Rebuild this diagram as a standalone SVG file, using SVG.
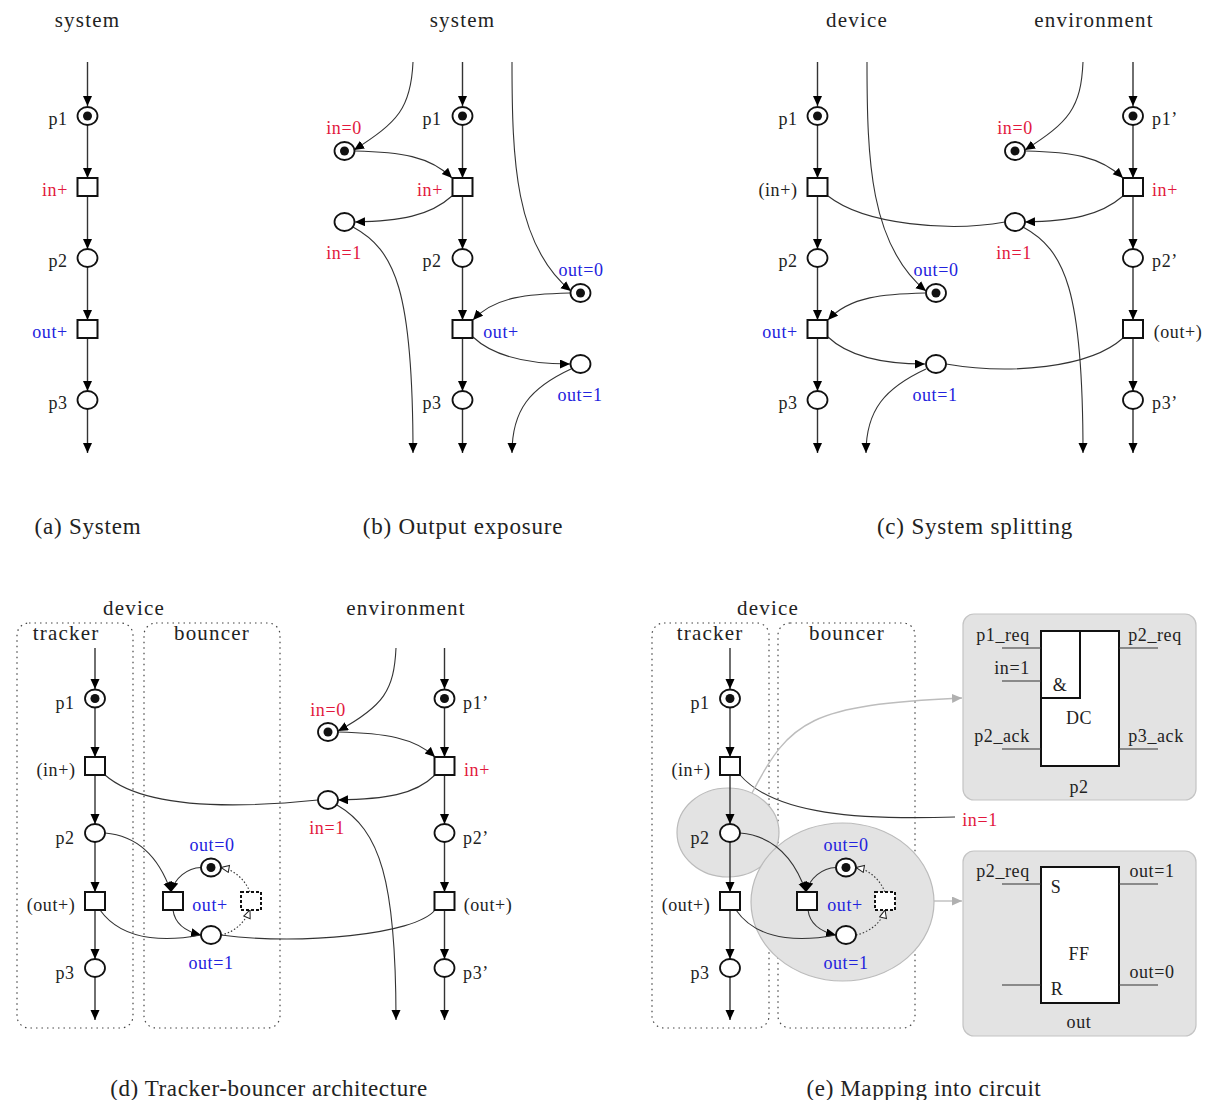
<svg xmlns="http://www.w3.org/2000/svg" width="1209" height="1100" viewBox="0 0 1209 1100">
<defs>
<marker id="ah" markerUnits="userSpaceOnUse" markerWidth="11" markerHeight="10" refX="10" refY="4.5" orient="auto"><path d="M0 0L10 4.5L0 9Z" fill="#000"/></marker>
<marker id="ho" markerUnits="userSpaceOnUse" markerWidth="11" markerHeight="10" refX="9" refY="4" orient="auto"><path d="M1 .5L9 4L1 7.5Z" fill="#fff" stroke="#222" stroke-width="1"/></marker>
<marker id="gr" markerUnits="userSpaceOnUse" markerWidth="11" markerHeight="10" refX="10" refY="4.5" orient="auto"><path d="M0 0L10 4.5L0 9Z" fill="#b0b0b0"/></marker>
</defs>
<style>
text{font-family:"Liberation Serif","Times New Roman",serif;font-size:18px;letter-spacing:.6px;fill:#222;text-anchor:middle;transform:translateY(1px)}
.h{font-size:21px;letter-spacing:1.2px}.cap{font-size:23px;letter-spacing:.8px}.cap2{letter-spacing:.6px}
.r{fill:#e2183c}.b{fill:#2222dd}
.pl{fill:#fff;stroke:#111;stroke-width:1.8}
.tr{fill:#fff;stroke:#111;stroke-width:2}
.dt{fill:#fff;stroke:#111;stroke-width:2;stroke-dasharray:3 2}
.tk{fill:#111;stroke:none}
.c path{fill:none;stroke:#333;stroke-width:1.1;marker-end:url(#ah)}
.c path.n{marker-end:none}
.c path.d{stroke-dasharray:1.5 2;marker-end:url(#ho)}
.c path.v{stroke-width:1.4}
.g path{fill:none;stroke:#bdbdbd;stroke-width:1.4;marker-end:url(#gr)}
.box{fill:none;stroke:#444;stroke-width:1.2;stroke-dasharray:1.5 4}
.blob{fill:#e3e3e3;stroke:#bbb;stroke-width:1.2}
.panel{fill:#e3e3e3;stroke:#c4c4c4;stroke-width:1.2}
.chip{fill:#fff;stroke:#111;stroke-width:2}
.w{stroke:#333;stroke-width:1.2;fill:none}
</style>

<g id="regions">
<rect class="box" x="17" y="623" width="116" height="405" rx="12"/>
<rect class="box" x="144" y="623" width="136" height="405" rx="12"/>
<rect class="box" x="652" y="623" width="117" height="405" rx="12"/>
<rect class="box" x="778" y="623" width="137" height="405" rx="12"/>
<ellipse class="blob" cx="728" cy="832.500" rx="51" ry="44.500"/>
<ellipse class="blob" cx="842.500" cy="902" rx="91.500" ry="79"/>
<rect class="panel" x="963" y="614" width="233" height="186" rx="11"/>
<rect class="panel" x="963" y="851" width="233" height="185" rx="11"/>
</g>

<g id="connectors" class="c">
<!-- a -->
<path class="v" d="M87.500 62V106"/><path class="v" d="M87.500 125V178"/><path class="v" d="M87.500 196V249"/><path class="v" d="M87.500 267V320"/><path class="v" d="M87.500 338V391"/><path class="v" d="M87.500 409V453"/>
<!-- b -->
<path class="v" d="M462.500 62V106"/><path class="v" d="M462.500 125V178"/><path class="v" d="M462.500 196V249"/><path class="v" d="M462.500 267V320"/><path class="v" d="M462.500 338V391"/><path class="v" d="M462.500 409V453"/>
<path d="M413 62C411 108 398 122 354 150"/>
<path d="M355 151C400 152 430 156 452 178"/>
<path d="M452 196C430 216 400 221 355 222"/>
<path d="M353 227C395 250 413 290 413 453"/>
<path d="M512 62C512 160 515 245 571 291"/>
<path d="M570 293C530 294 495 296 473 320"/>
<path d="M473 337C495 358 530 364 570 364"/>
<path d="M571 369C530 388 512 410 512 453"/>
<!-- c -->
<path class="v" d="M817.500 62V106"/><path class="v" d="M817.500 125V178"/><path class="v" d="M817.500 196V249"/><path class="v" d="M817.500 267V320"/><path class="v" d="M817.500 338V391"/><path class="v" d="M817.500 409V453"/>
<path class="v" d="M1133 62V106"/><path class="v" d="M1133 125V178"/><path class="v" d="M1133 196V249"/><path class="v" d="M1133 267V320"/><path class="v" d="M1133 338V391"/><path class="v" d="M1133 409V453"/>
<path d="M867 62C867 160 870 245 926 291"/>
<path d="M925 293C885 294 850 296 828 320"/>
<path d="M828 337C850 358 885 364 925 364"/>
<path d="M926 369C885 388 866 410 866 453"/>
<path class="n" d="M828 196C865 225 950 232 1005 222"/>
<path d="M1083 62C1081 108 1069 122 1025 150"/>
<path d="M1026 151C1071 152 1100 156 1123 178"/>
<path d="M1123 196C1100 216 1070 221 1025 222"/>
<path d="M1023 227C1065 250 1083 290 1083 453"/>
<path class="n" d="M946 364C1010 375 1090 368 1123 338"/>
<!-- d -->
<path class="v" d="M95 648V689"/><path class="v" d="M95 708V757"/><path class="v" d="M95 775V824"/><path class="v" d="M95 842V892"/><path class="v" d="M95 910V959"/><path class="v" d="M95 977V1020"/>
<path class="v" d="M444.500 648V689"/><path class="v" d="M444.500 708V757"/><path class="v" d="M444.500 775V824"/><path class="v" d="M444.500 842V892"/><path class="v" d="M444.500 910V959"/><path class="v" d="M444.500 977V1020"/>
<path d="M396 648C394 690 384 706 338 731"/>
<path d="M338 732C385 733 415 738 435 757"/>
<path d="M435 775C415 795 385 799 338 800"/>
<path class="n" d="M105 775C145 810 240 808 318 800"/>
<path d="M337 805C380 830 396 880 396 1020"/>
<path d="M105 833C140 836 160 860 171 892"/>
<path d="M201 867.500C187 868 175 878 171 892"/>
<path d="M173 910C175 925 188 932 201 935"/>
<path class="n" d="M100 910C125 945 175 940 201 935"/>
<path class="n" d="M221 935C300 945 415 935 435 910"/>
<path class="d" d="M250 892C245 880 235 870 221 867.500"/>
<path class="d" d="M221 935C235 932 245 922 250 910"/>
<!-- e -->
<path class="v" d="M730 648V689"/><path class="v" d="M730 708V757"/><path class="v" d="M730 775V824"/><path class="v" d="M730 842V892"/><path class="v" d="M730 910V959"/><path class="v" d="M730 977V1020"/>
<path class="n" d="M740 775C775 815 860 820 955 817"/>
<path d="M740 833C775 836 795 860 806 892"/>
<path d="M836 867.500C822 868 810 878 806 892"/>
<path d="M808 910C810 925 822 932 836 935"/>
<path class="n" d="M736 910C760 945 810 940 836 935"/>
<path class="d" d="M885 892C880 880 870 870 856 867.500"/>
<path class="d" d="M856 935C870 932 882 922 885 910"/>
</g>
<g id="mapping-connectors" class="g">
<path d="M752 793C790 720 810 705 962 698"/>
<path d="M934 901H962"/>
</g>

<g id="a-p1"><ellipse class="pl" cx="87.500" cy="116" rx="10" ry="9"/><circle class="tk" cx="87.500" cy="116" r="4.500"/><text x="58" y="124">p1</text></g>
<g id="a-in"><rect class="tr" x="77.500" y="178" width="20" height="18"/><text x="55" y="195" class="r">in+</text></g>
<g id="a-p2"><ellipse class="pl" cx="87.500" cy="258" rx="10" ry="9"/><text x="58" y="266">p2</text></g>
<g id="a-out"><rect class="tr" x="77.500" y="320" width="20" height="18"/><text x="50" y="337" class="b">out+</text></g>
<g id="a-p3"><ellipse class="pl" cx="87.500" cy="400" rx="10" ry="9"/><text x="58" y="408">p3</text></g>

<g id="b-p1"><ellipse class="pl" cx="462.500" cy="116" rx="10" ry="9"/><circle class="tk" cx="462.500" cy="116" r="4.500"/><text x="432" y="124">p1</text></g>
<g id="b-in"><rect class="tr" x="452.500" y="178" width="20" height="18"/><text x="430" y="195" class="r">in+</text></g>
<g id="b-p2"><ellipse class="pl" cx="462.500" cy="258" rx="10" ry="9"/><text x="432" y="266">p2</text></g>
<g id="b-out"><rect class="tr" x="452.500" y="320" width="20" height="18"/><text x="501" y="337" class="b">out+</text></g>
<g id="b-p3"><ellipse class="pl" cx="462.500" cy="400" rx="10" ry="9"/><text x="432" y="408">p3</text></g>
<g id="b-in0"><ellipse class="pl" cx="344.500" cy="151" rx="10" ry="9"/><circle class="tk" cx="344.500" cy="151" r="4.500"/><text x="344" y="133" class="r">in=0</text></g>
<g id="b-in1"><ellipse class="pl" cx="344.500" cy="222" rx="10" ry="9"/><text x="344" y="258" class="r">in=1</text></g>
<g id="b-out0"><ellipse class="pl" cx="580.500" cy="293" rx="10" ry="9"/><circle class="tk" cx="580.500" cy="293" r="4.500"/><text x="581" y="275" class="b">out=0</text></g>
<g id="b-out1"><ellipse class="pl" cx="580.500" cy="364" rx="10" ry="9"/><text x="580" y="400" class="b">out=1</text></g>

<g id="c-p1"><ellipse class="pl" cx="817.500" cy="116" rx="10" ry="9"/><circle class="tk" cx="817.500" cy="116" r="4.500"/><text x="788" y="124">p1</text></g>
<g id="c-in"><rect class="tr" x="807.500" y="178" width="20" height="18"/><text x="778" y="195">(in+)</text></g>
<g id="c-p2"><ellipse class="pl" cx="817.500" cy="258" rx="10" ry="9"/><text x="788" y="266">p2</text></g>
<g id="c-out"><rect class="tr" x="807.500" y="320" width="20" height="18"/><text x="780" y="337" class="b">out+</text></g>
<g id="c-p3"><ellipse class="pl" cx="817.500" cy="400" rx="10" ry="9"/><text x="788" y="408">p3</text></g>
<g id="c-p1e"><ellipse class="pl" cx="1133" cy="116" rx="10" ry="9"/><circle class="tk" cx="1133" cy="116" r="4.500"/><text x="1165" y="124">p1’</text></g>
<g id="c-ine"><rect class="tr" x="1123" y="178" width="20" height="18"/><text x="1165" y="195" class="r">in+</text></g>
<g id="c-p2e"><ellipse class="pl" cx="1133" cy="258" rx="10" ry="9"/><text x="1165" y="266">p2’</text></g>
<g id="c-oute"><rect class="tr" x="1123" y="320" width="20" height="18"/><text x="1178" y="337">(out+)</text></g>
<g id="c-p3e"><ellipse class="pl" cx="1133" cy="400" rx="10" ry="9"/><text x="1165" y="408">p3’</text></g>
<g id="c-in0"><ellipse class="pl" cx="1015" cy="151" rx="10" ry="9"/><circle class="tk" cx="1015" cy="151" r="4.500"/><text x="1015" y="133" class="r">in=0</text></g>
<g id="c-in1"><ellipse class="pl" cx="1015" cy="222" rx="10" ry="9"/><text x="1014" y="258" class="r">in=1</text></g>
<g id="c-out0"><ellipse class="pl" cx="936" cy="293" rx="10" ry="9"/><circle class="tk" cx="936" cy="293" r="4.500"/><text x="936" y="275" class="b">out=0</text></g>
<g id="c-out1"><ellipse class="pl" cx="936" cy="364" rx="10" ry="9"/><text x="935" y="400" class="b">out=1</text></g>

<g id="d-p1"><ellipse class="pl" cx="95" cy="698.500" rx="10" ry="9"/><circle class="tk" cx="95" cy="698.500" r="4.500"/><text x="65" y="708">p1</text></g>
<g id="d-in"><rect class="tr" x="85" y="757" width="20" height="18"/><text x="56" y="775">(in+)</text></g>
<g id="d-p2"><ellipse class="pl" cx="95" cy="833" rx="10" ry="9"/><text x="65" y="843">p2</text></g>
<g id="d-out"><rect class="tr" x="85" y="892" width="20" height="18"/><text x="51" y="910">(out+)</text></g>
<g id="d-p3"><ellipse class="pl" cx="95" cy="968" rx="10" ry="9"/><text x="65" y="978">p3</text></g>
<g id="d-p1e"><ellipse class="pl" cx="444.500" cy="698.500" rx="10" ry="9"/><circle class="tk" cx="444.500" cy="698.500" r="4.500"/><text x="476" y="708">p1’</text></g>
<g id="d-ine"><rect class="tr" x="434.500" y="757" width="20" height="18"/><text x="477" y="775" class="r">in+</text></g>
<g id="d-p2e"><ellipse class="pl" cx="444.500" cy="833" rx="10" ry="9"/><text x="476" y="843">p2’</text></g>
<g id="d-oute"><rect class="tr" x="434.500" y="892" width="20" height="18"/><text x="488" y="910">(out+)</text></g>
<g id="d-p3e"><ellipse class="pl" cx="444.500" cy="968" rx="10" ry="9"/><text x="476" y="978">p3’</text></g>
<g id="d-in0"><ellipse class="pl" cx="328" cy="732" rx="10" ry="9"/><circle class="tk" cx="328" cy="732" r="4.500"/><text x="328" y="715" class="r">in=0</text></g>
<g id="d-in1"><ellipse class="pl" cx="328" cy="800" rx="10" ry="9"/><text x="327" y="833" class="r">in=1</text></g>
<g id="d-tb"><rect class="tr" x="163" y="892" width="20" height="18"/><text x="210" y="910" class="b">out+</text></g>
<g id="d-out0"><ellipse class="pl" cx="211" cy="867.500" rx="10" ry="9"/><circle class="tk" cx="211" cy="867.500" r="4.500"/><text x="212" y="850" class="b">out=0</text></g>
<g id="d-out1"><ellipse class="pl" cx="211" cy="935" rx="10" ry="9"/><text x="211" y="968" class="b">out=1</text></g>
<g id="d-dash"><rect class="dt" x="241" y="892" width="20" height="18"/></g>

<g id="e-p1"><ellipse class="pl" cx="730" cy="698.500" rx="10" ry="9"/><circle class="tk" cx="730" cy="698.500" r="4.500"/><text x="700" y="708">p1</text></g>
<g id="e-in"><rect class="tr" x="720" y="757" width="20" height="18"/><text x="691" y="775">(in+)</text></g>
<g id="e-p2"><ellipse class="pl" cx="730" cy="833" rx="10" ry="9"/><text x="700" y="843">p2</text></g>
<g id="e-out"><rect class="tr" x="720" y="892" width="20" height="18"/><text x="686" y="910">(out+)</text></g>
<g id="e-p3"><ellipse class="pl" cx="730" cy="968" rx="10" ry="9"/><text x="700" y="978">p3</text></g>
<g id="e-tb"><rect class="tr" x="797" y="892" width="20" height="18"/><text x="845" y="910" class="b">out+</text></g>
<g id="e-out0"><ellipse class="pl" cx="846" cy="867.500" rx="10" ry="9"/><circle class="tk" cx="846" cy="867.500" r="4.500"/><text x="846" y="850" class="b">out=0</text></g>
<g id="e-out1"><ellipse class="pl" cx="846" cy="935" rx="10" ry="9"/><text x="846" y="968" class="b">out=1</text></g>
<g id="e-dash"><rect class="dt" x="875" y="892" width="20" height="18"/></g>
<g id="e-in1label"><text x="980" y="825" class="r">in=1</text></g>

<g id="dc-circuit">
<rect class="chip" x="1041" y="631" width="78" height="135"/>
<path class="chip" d="M1041 631H1080V698H1041Z"/>
<path class="w" d="M1002 648H1041M1002 681H1041M1002 749H1041M1119 648H1158M1119 749H1158"/>
<text x="1003" y="640">p1_req</text><text x="1012" y="673">in=1</text><text x="1002" y="741">p2_ack</text>
<text x="1155" y="640">p2_req</text><text x="1156" y="741">p3_ack</text>
<text x="1060" y="690">&amp;</text><text x="1079" y="723">DC</text><text x="1079" y="792">p2</text>
</g>
<g id="ff-circuit">
<rect class="chip" x="1041" y="867" width="78" height="136"/>
<path class="w" d="M1002 884H1041M1002 985H1041M1119 884H1158M1119 985H1158"/>
<text x="1003" y="876">p2_req</text><text x="1152" y="876">out=1</text><text x="1152" y="977">out=0</text>
<text x="1056" y="892">S</text><text x="1057" y="994">R</text><text x="1079" y="959">FF</text><text x="1079" y="1027">out</text>
</g>

<g id="labels">
<text class="h" x="87.500" y="26">system</text><text class="h" x="462.500" y="26">system</text>
<text class="h" x="857" y="26">device</text><text class="h" x="1094" y="26">environment</text>
<text class="h" x="134" y="614">device</text><text class="h" x="66" y="639">tracker</text><text class="h" x="212" y="639">bouncer</text><text class="h" x="406" y="614">environment</text>
<text class="h" x="768" y="614">device</text><text class="h" x="710" y="639">tracker</text><text class="h" x="847" y="639">bouncer</text>
<text class="cap" x="88" y="533">(a) System</text><text class="cap" x="463" y="533">(b) Output exposure</text><text class="cap" x="975" y="533">(c) System splitting</text>
<text class="cap cap2" x="269" y="1095">(d) Tracker-bouncer architecture</text><text class="cap cap2" x="924" y="1095">(e) Mapping into circuit</text>
</g>
</svg>
